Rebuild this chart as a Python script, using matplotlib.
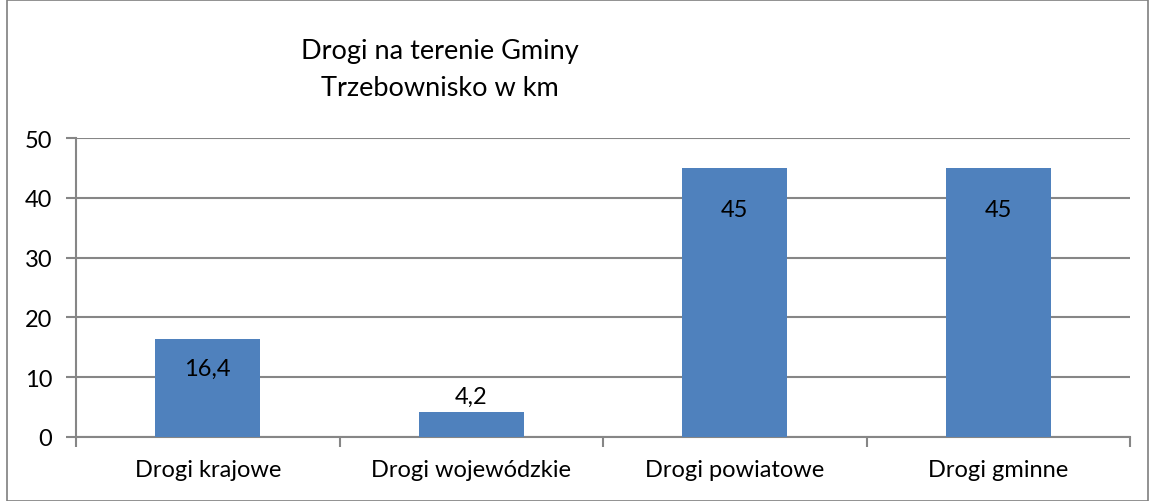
import matplotlib
matplotlib.use("Agg")
import matplotlib.pyplot as plt
from matplotlib.patches import Rectangle

categories = ["Drogi krajowe", "Drogi wojewódzkie", "Drogi powiatowe", "Drogi gminne"]
values = [16.4, 4.2, 45, 45]
labels = ["16,4", "4,2", "45", "45"]
yticks = [0, 10, 20, 30, 40, 50]

plt.rcParams['font.family'] = ['Lato', 'DejaVu Sans']

fig = plt.figure(figsize=(11.52, 5.02), dpi=100)
ax = fig.add_axes([76/1152, 64/502, (1130-76)/1152, (438-139)/502])

gray = "#868686"
fs = 17
x = list(range(len(categories)))
ax.bar(x, values, width=0.4, color="#4F81BD", zorder=3)
ax.set_xlim(-0.5, len(categories) - 0.5)
ax.set_ylim(0, 50)
ax.set_yticks(yticks)
ax.set_yticklabels([str(t) for t in yticks], fontsize=fs)
ax.yaxis.grid(True, color=gray, linewidth=1.5, zorder=0)
ax.set_xticks(x)
ax.set_xticklabels(categories, fontsize=fs)
ax.tick_params(axis='x', length=0, pad=16)
ax.tick_params(axis='y', length=7, width=1.5, color=gray, pad=10)
ax.set_xticks([i - 0.5 for i in range(len(categories) + 1)], minor=True)
ax.tick_params(axis='x', which='minor', length=7, width=1.5, color=gray)
for s in ["top", "right"]:
    ax.spines[s].set_visible(False)
for s in ["left", "bottom"]:
    ax.spines[s].set_color(gray)
    ax.spines[s].set_linewidth(1.5)

offsets = [-29, 16, -42, -42]
for xi, v, lab, off in zip(x, values, labels, offsets):
    ax.annotate(lab, (xi, v), xytext=(0, off), textcoords="offset pixels",
                ha="center", va="center", fontsize=fs, zorder=4)

fig.text(440/1152, 1 - 70/502, "Drogi na terenie Gminy\nTrzebownisko w km", ha="center", va="center",
         fontsize=19.5, linespacing=1.55)

fig.patches.append(Rectangle((7/1152, 0), (1148-7)/1152, 1 - 1/502, transform=fig.transFigure,
                             fill=False, edgecolor="#7f7f7f", linewidth=1.2))

fig.savefig("out.png", dpi=100)
